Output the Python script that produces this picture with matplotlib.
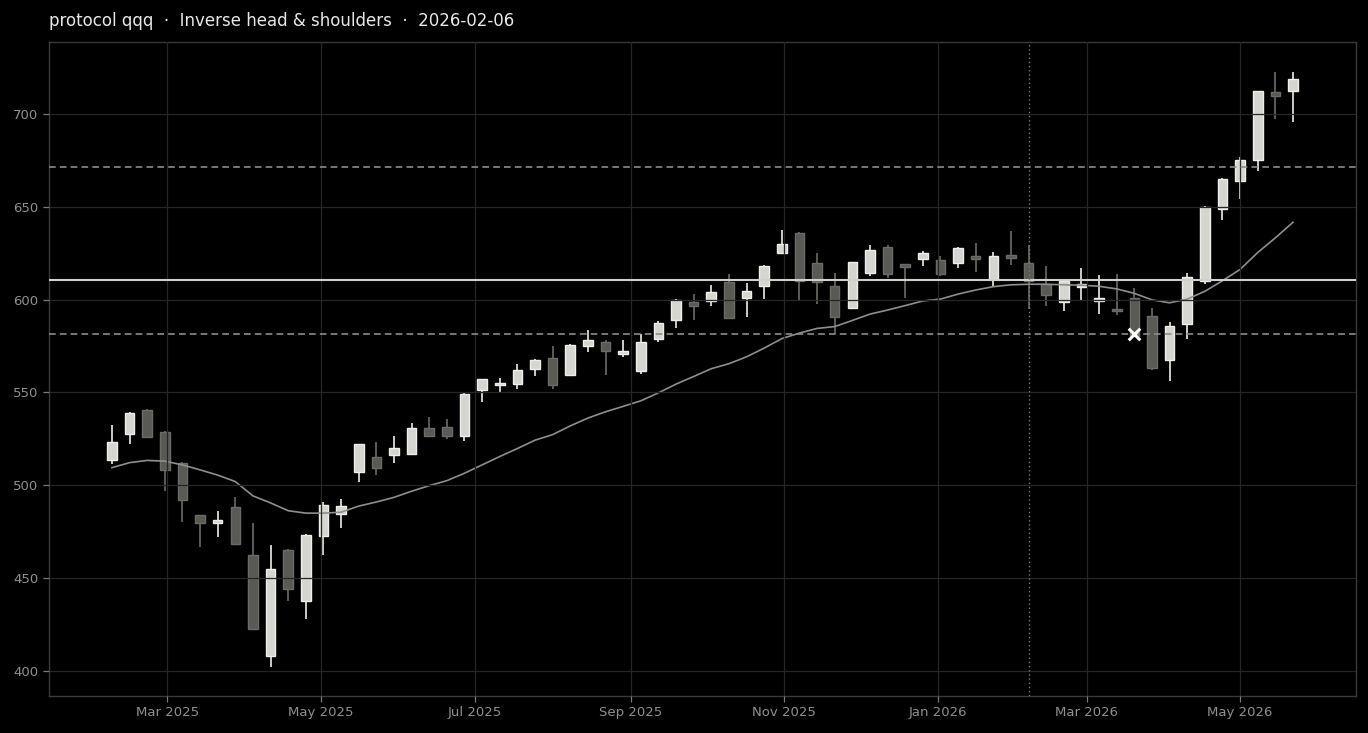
import matplotlib
matplotlib.use("Agg")
import matplotlib.pyplot as plt
import matplotlib.dates as mdates
import numpy as np
import pandas as pd


# weekly candles, Fridays
dates = pd.date_range("2025-02-07", periods=68, freq="7D")

opens = [513.5, 527.5, 540.4, 528.7, 511.9, 483.9, 479.6, 488.2, 462.3, 408.3,
         465.0, 437.9, 472.9, 484.4, 506.9, 515.3, 516.1, 517.0, 530.7, 531.3,
         526.8, 551.2, 553.9, 554.4, 562.6, 568.5, 559.3, 574.9, 577.1, 570.6,
         561.5, 578.7, 588.9, 598.6, 599.1, 609.4, 600.8, 607.2, 625.0, 635.8,
         619.6, 607.2, 595.4, 614.2, 628.2, 619.1, 621.8, 621.2, 619.6, 623.6,
         611.0, 624.3, 619.6, 608.3, 598.6, 606.7, 599.1, 594.8, 600.8, 591.0,
         567.4, 586.8, 609.9, 648.7, 663.8, 675.0, 711.7, 712.2]
closes = [523.5, 538.8, 526.2, 508.1, 492.0, 479.6, 481.3, 468.6, 422.4, 454.8,
          444.0, 473.1, 489.3, 488.9, 522.1, 509.1, 519.9, 530.7, 526.8, 526.8,
          549.0, 557.1, 555.1, 562.0, 567.4, 553.9, 575.5, 578.2, 572.3, 572.3,
          577.1, 587.3, 599.8, 596.4, 604.0, 590.0, 604.6, 618.0, 629.8, 609.9,
          609.4, 590.6, 620.1, 626.6, 613.7, 617.5, 625.0, 613.7, 627.7, 621.8,
          623.6, 622.7, 609.9, 602.4, 609.9, 608.3, 600.8, 593.8, 580.5, 563.0,
          585.7, 612.0, 649.9, 665.0, 675.2, 712.2, 709.5, 718.7]
highs = [532.5, 539.5, 541.0, 529.5, 512.8, 484.2, 486.1, 493.6, 479.6, 467.7,
         465.5, 473.5, 490.9, 492.5, 522.5, 523.2, 526.3, 533.4, 536.7, 535.6,
         549.5, 557.5, 557.7, 565.2, 568.0, 574.9, 576.0, 583.6, 578.3, 578.2,
         581.3, 588.6, 600.3, 602.9, 607.8, 613.7, 608.9, 618.5, 637.4, 636.2,
         625.0, 614.2, 620.5, 629.3, 629.3, 619.3, 626.1, 623.4, 628.2, 630.4,
         625.6, 636.8, 629.5, 618.0, 610.5, 616.9, 613.2, 613.7, 606.1, 595.4,
         587.8, 614.2, 650.4, 665.5, 676.7, 712.5, 722.5, 722.5]
lows = [511.5, 522.1, 525.5, 496.8, 480.4, 466.6, 472.3, 468.0, 421.8, 402.0,
        437.4, 427.8, 462.5, 476.9, 501.7, 505.4, 511.9, 516.1, 525.9, 524.8,
        523.7, 544.8, 549.6, 551.8, 558.9, 551.8, 558.8, 571.7, 559.3, 569.0,
        559.8, 577.1, 584.6, 588.9, 596.5, 589.5, 590.6, 600.2, 624.5, 599.1,
        597.6, 581.3, 595.0, 612.6, 611.5, 600.8, 618.0, 613.0, 617.0, 614.8,
        607.2, 618.5, 595.0, 596.5, 593.8, 599.1, 592.2, 591.6, 580.0, 561.9,
        556.0, 578.7, 608.4, 642.8, 654.1, 669.2, 697.1, 695.5]

moving_avg = [509.5, 512.2, 513.4, 513.0, 511.0, 508.3, 505.5, 502.0, 494.3, 490.5,
              486.3, 485.0, 485.0, 485.5, 488.8, 491.0, 493.5, 496.8, 499.8, 502.5,
              506.5, 511.0, 515.5, 519.8, 524.3, 527.3, 532.0, 536.2, 539.6, 542.5,
              545.5, 549.8, 554.5, 558.6, 562.8, 565.5, 569.2, 573.9, 579.0, 582.0,
              584.5, 585.5, 588.8, 592.2, 594.4, 596.8, 599.3, 600.3, 603.0, 605.2,
              607.0, 608.0, 608.3, 608.3, 608.0, 607.8, 607.2, 605.8, 603.4, 599.9,
              598.3, 600.3, 604.5, 610.2, 616.3, 625.4, 633.3, 641.7]

neckline = 610.6
target_level = 671.5
stop_level = 581.5
signal_date = "2026-02-06"
marker_date = "2026-03-20"
marker_price = 581.5

title = "protocol qqq  \u00b7  Inverse head & shoulders  \u00b7  2026-02-06"

bg = "#000000"
up_fill, up_edge = "#d6d6d0", "#efefe9"
dn_fill, dn_edge = "#5a5a55", "#6c6c67"

fig = plt.figure(figsize=(13.68, 7.33), dpi=100, facecolor=bg)
ax = fig.add_axes([0.0358, 0.0505, 0.9554, 0.8922], facecolor=bg)

x = mdates.date2num(dates)
o = np.array(opens)
c = np.array(closes)
h = np.array(highs)
l = np.array(lows)
up = c >= o

body_w = 3.8
# wicks
ax.vlines(x[up], l[up], h[up], color=up_edge, lw=1.2, zorder=1)
ax.vlines(x[~up], l[~up], h[~up], color=dn_edge, lw=1.2, zorder=1)
# bodies
ax.bar(x[up], (c - o)[up], bottom=o[up], width=body_w, color=up_fill,
       edgecolor=up_edge, linewidth=1.0, zorder=1.5)
ax.bar(x[~up], (o - c)[~up], bottom=c[~up], width=body_w, color=dn_fill,
       edgecolor=dn_edge, linewidth=1.0, zorder=1.5)

ax.plot(x, moving_avg, color="#8e8e8e", lw=1.2, zorder=2)

ax.axhline(neckline, color="#d0d0cc", lw=1.5, zorder=3)
ax.axhline(target_level, color="#8c8c8c", lw=1.2, ls=(0, (4, 2.5)), zorder=3)
ax.axhline(stop_level, color="#8c8c8c", lw=1.2, ls=(0, (4, 2.5)), zorder=3)
ax.axvline(mdates.datestr2num(signal_date), color="#7a7a7a", lw=1.0,
           ls=(0, (1, 2)), zorder=3)
ax.scatter([mdates.datestr2num(marker_date)], [marker_price], marker="x",
           s=70, color="#ffffff", linewidths=2.2, zorder=4)

ax.set_xlim(x[0] - 25, x[-1] + 25)
ax.set_ylim(386.5, 738.8)
ax.set_yticks(np.arange(400, 701, 50))
ax.xaxis.set_major_locator(mdates.MonthLocator(bymonth=[1, 3, 5, 7, 9, 11]))
ax.xaxis.set_major_formatter(mdates.DateFormatter("%b %Y"))

ax.set_axisbelow(False)
ax.grid(True, color="#262626", lw=0.9)
for s in ax.spines.values():
    s.set_color("#3a3a3a")
    s.set_linewidth(1.0)
ax.tick_params(colors="#8f8f8f", labelsize=9.5, length=4, width=0.9)
ax.tick_params(axis="both", color="#7a7a7a")

fig.text(0.0358, 0.972, title, color="#e8e8e8", fontsize=12,
         ha="left", va="center")

fig.savefig("out.png", dpi=100, facecolor=bg)
